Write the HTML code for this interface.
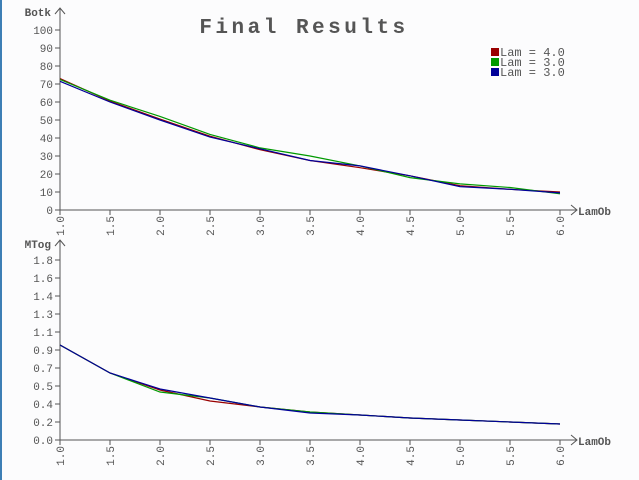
<!DOCTYPE html>
<html><head><meta charset="utf-8"><style>
html,body{margin:0;padding:0;background:#fcfcfd;}
svg{display:block;font-family:"Liberation Mono",monospace;}
</style></head><body>
<svg width="639" height="480" viewBox="0 0 639 480">
<rect x="0" y="0" width="639" height="480" fill="#fcfcfd"/>
<rect x="0" y="0" width="2" height="480" fill="#3d7fb5"/>
<text x="304" y="33" text-anchor="middle" font-size="21" font-weight="bold" fill="#555" letter-spacing="3.5">Final Results</text>
<g id="legend"></g>
<g id="top"></g>
<g id="bot"></g>
</svg>
<script>
const xs = [1.0,1.5,2.0,2.5,3.0,3.5,4.0,4.5,5.0,5.5,6.0];
const xTickLabels = ["1.0","1.5","2.0","2.5","3.0","3.5","4.0","4.5","5.0","5.5","6.0"];
const seriesNames = ["Lam = 4.0","Lam = 3.0","Lam = 3.0"];
const seriesColors = ["#990000","#009900","#000099"];
const topRed = [73,60.5,50.5,41,33.5,27.5,23.5,19,13.5,11.5,10];
const topGreen = [72.5,61,52,42,34.5,30,24.5,18,14.5,12.5,9];
const topBlue = [71.5,60,50,40.5,34,27.5,24.5,19,13,11.5,9.5];
const topTicks = [0,10,20,30,40,50,60,70,80,90,100];
const botRed = [0.95,0.67,0.50,0.39,0.33,0.28,0.25,0.22,0.20,0.18,0.16];
const botGreen = [0.95,0.67,0.48,0.42,0.33,0.28,0.25,0.22,0.20,0.18,0.16];
const botBlue = [0.95,0.67,0.51,0.42,0.33,0.27,0.25,0.22,0.20,0.18,0.16];
const botTickVals = [0,0.18,0.36,0.54,0.72,0.9,1.08,1.26,1.44,1.62,1.8];
const botTickLabels = ["0.0","0.2","0.4","0.5","0.7","0.9","1.1","1.3","1.4","1.6","1.8"];

const NS="http://www.w3.org/2000/svg";
function mk(parent,tag,attrs,text){const e=document.createElementNS(NS,tag);for(const k in attrs)e.setAttribute(k,attrs[k]);if(text!==undefined)e.textContent=text;parent.appendChild(e);return e;}
const xScale=v=>60+(v-1)*100;
const AX="#555";

function panel(g,y0,yTop,yScale,tickVals,tickLabels,yTitle,series,prefix){
  let e;
  e=mk(g,'line',{x1:60,y1:y0,x2:60,y2:yTop,stroke:AX});
  
  
  e=mk(g,'polyline',{points:`55,${yTop+6} 60,${yTop} 65,${yTop+6}`,fill:'none',stroke:AX});
  
  
  e=mk(g,'line',{x1:60,y1:y0,x2:577,y2:y0,stroke:AX});
  
  
  e=mk(g,'polyline',{points:`571,${y0-5} 577,${y0} 571,${y0+5}`,fill:'none',stroke:AX});
  
  
  e=mk(g,'text',{x:578,y:y0+5,'font-size':11,'font-weight':'bold',fill:AX},'LamOb');
  
  
  e=mk(g,'text',{x:51,y:yTop+8,'font-size':11,'font-weight':'bold',fill:AX,'text-anchor':'end'},yTitle);
  
  
  tickVals.forEach((v,i)=>{
    const y=yScale(v);
    e=mk(g,'line',{x1:55,y1:y,x2:60,y2:y,stroke:AX});
    
    
    e=mk(g,'text',{x:53,y:y+4,'font-size':11,fill:AX,'text-anchor':'end'},tickLabels[i]);
    
    
  });
  xs.forEach((v,i)=>{
    const x=xScale(v);
    e=mk(g,'line',{x1:x,y1:y0,x2:x,y2:y0+5,stroke:AX});
    
    
    e=mk(g,'text',{x:0,y:0,'font-size':11,fill:AX,'text-anchor':'end',transform:`translate(${x+4},${y0+6}) rotate(-90)`},xTickLabels[i]);
    
    
  });
  series.forEach((s,k)=>{
    const pts=s.map((v,i)=>xScale(xs[i]).toFixed(1)+','+yScale(v).toFixed(1)).join(' ');
    e=mk(g,'polyline',{points:pts,fill:'none',stroke:seriesColors[k],'stroke-width':1.2});
    
    
  });
}
panel(document.getElementById('top'),210,8,v=>210-1.8*v,topTicks,topTicks.map(String),'Botk',[topRed,topGreen,topBlue],'top');
panel(document.getElementById('bot'),440,240,v=>440-100*v,botTickVals,botTickLabels,'MTog',[botRed,botGreen,botBlue],'bottom');

const lg=document.getElementById('legend');
seriesNames.forEach((n,i)=>{
  let e=mk(lg,'rect',{x:491,y:48+i*10,width:8,height:8,fill:seriesColors[i]});
  
  
  e=mk(lg,'text',{x:500,y:56+i*10,'font-size':12,fill:AX},n);
  
  
});
</script>
</body></html>
